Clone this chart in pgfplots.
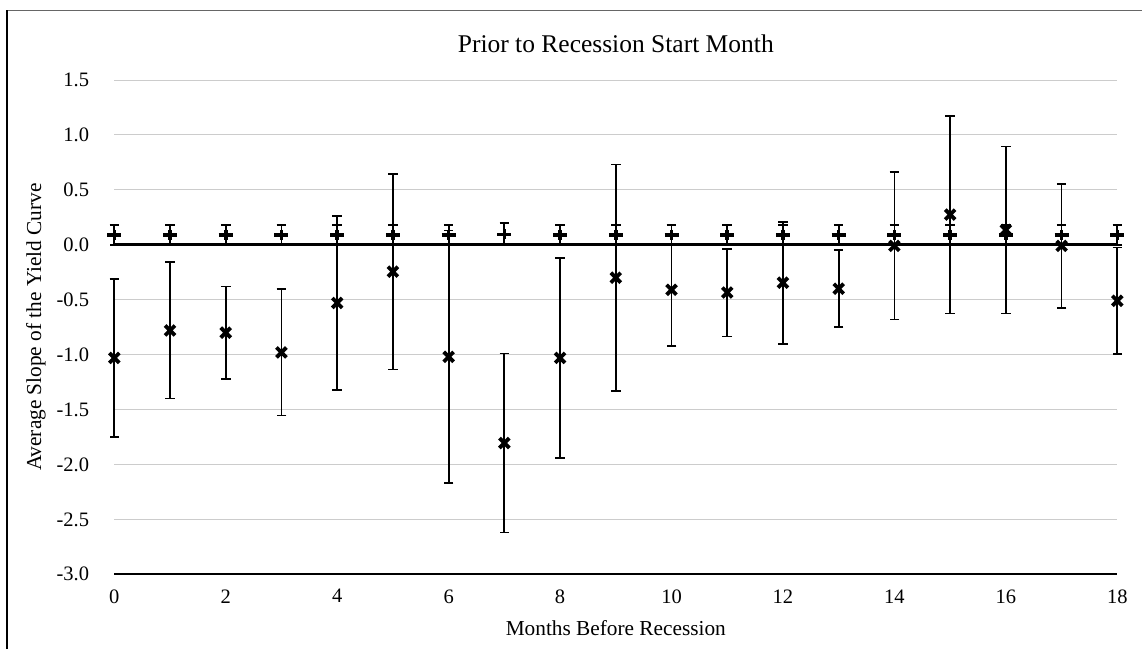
\documentclass[border=0pt]{standalone}
\usepackage{fontspec}
\setmainfont{Liberation Serif}
\usepackage{pgfplots}
\usepackage{pgfplotstable}
\pgfplotsset{compat=1.18}

% average slope of the yield curve before recessions, with +/- band
\pgfplotstableread{
x y err
0 -1.03 0.72
1 -0.78 0.62
2 -0.80 0.42
3 -0.98 0.575
4 -0.53 0.79
5 -0.245 0.89
6 -1.02 1.15
7 -1.805 0.815
8 -1.03 0.91
9 -0.30 1.03
10 -0.41 0.51
11 -0.435 0.40
12 -0.345 0.555
13 -0.40 0.35
14 -0.01 0.67
15 0.275 0.90
16 0.135 0.76
17 -0.01 0.565
18 -0.51 0.485
}\slopes

% unconditional average slope
\pgfplotstableread{
x y err
0 0.09 0.09
1 0.09 0.09
2 0.09 0.09
3 0.09 0.09
4 0.09 0.09
5 0.09 0.09
6 0.09 0.09
7 0.095 0.10
8 0.09 0.09
9 0.09 0.09
10 0.09 0.09
11 0.09 0.09
12 0.09 0.09
13 0.09 0.09
14 0.09 0.09
15 0.09 0.09
16 0.09 0.09
17 0.09 0.09
18 0.09 0.09
}\flatslope

\begin{document}
\begin{tikzpicture}[x=1pt,y=1pt]
\useasboundingbox (0,0) rectangle (1142,649);
% outer frame (top and left edges)
\draw[black!60, line width=1.2pt] (7,638.5) -- (1142,638.5);
\draw[black, line width=1.2pt] (7,0) -- (7,638.5);
\begin{axis}[
  at={(114.3pt,74.7pt)}, anchor=south west,
  scale only axis, width=1003pt, height=494.3pt,
  xmin=0, xmax=18, ymin=-3, ymax=1.5,
  xtick={0,2,...,18},
  ytick={-3,-2.5,-2,-1.5,-1,-0.5,0,0.5,1,1.5},
  yticklabel style={/pgf/number format/fixed, /pgf/number format/fixed zerofill,
    /pgf/number format/precision=1},
  /pgf/number format/assume math mode=true,
  axis line style={draw=none},
  major tick length=0pt,
  ymajorgrids,
  grid style={line width=1pt, color=black!20},
  clip=false,
  tick label style={font=\fontsize{20.5}{24}\selectfont, inner sep=0pt},
  yticklabel style={anchor=east, xshift=-25pt},
  xticklabel style={anchor=north, yshift=-15pt},
  title={Prior to Recession Start Month},
  title style={font=\fontsize{25.5}{30}\selectfont, anchor=center,
    at={(axis description cs:0.5,1)}, yshift=30pt},
  xlabel={Months Before Recession},
  xlabel style={font=\fontsize{21.3}{25}\selectfont, anchor=center,
    at={(axis description cs:0.5,0)}, yshift=-53.7pt},
  ylabel={Average Slope of the Yield Curve},
  ylabel style={font=\fontsize{21.3}{25}\selectfont, anchor=center,
    at={(axis description cs:0,0.5)}, yshift=78.3pt},
]
% bottom axis line and zero line
\draw[black, line width=1.8pt] (axis cs:0,-3) -- (axis cs:18,-3);
\addplot[black, line width=2.8pt, forget plot] coordinates {(0,0) (18,0)};

\addplot[black, only marks, mark=+, mark size=7pt,
  mark options={line width=3.6pt, yscale=0.72},
  error bars/.cd, y dir=both, y explicit,
  error bar style={line width=1.8pt},
  error mark options={rotate=90, mark size=4.8pt, line width=1.8pt}]
  table[x=x, y=y, y error=err] {\flatslope};

\addplot[black, only marks, mark=x, mark size=7pt,
  mark options={line width=3.8pt},
  error bars/.cd, y dir=both, y explicit,
  error bar style={line width=1.8pt},
  error mark options={rotate=90, mark size=4.8pt, line width=1.8pt}]
  table[x=x, y=y, y error=err] {\slopes};
\end{axis}
\end{tikzpicture}
\end{document}
